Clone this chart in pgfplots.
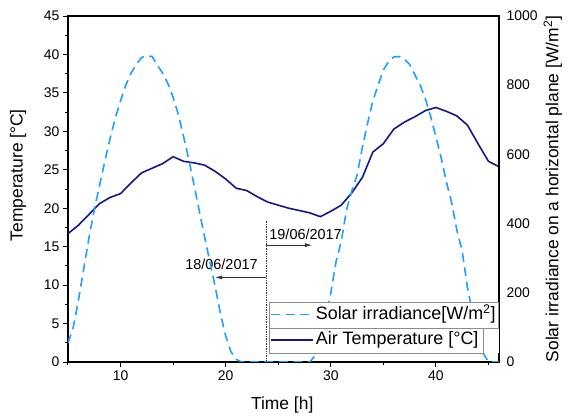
\documentclass[border=0pt]{standalone}
\usepackage{fontspec}
\setmainfont{Liberation Sans}
\usepackage{pgfplots}
\pgfplotsset{compat=1.18}
\usetikzlibrary{arrows.meta}

\definecolor{tempcol}{RGB}{22,22,135}
\definecolor{solcol}{RGB}{30,160,255}

% air temperature [°C]
\pgfplotstableread{
h T
5 16.7
6 17.8
7 19.2
8 20.6
9 21.4
10 21.9
11 23.3
12 24.6
13 25.2
14 25.8
15 26.7
16 26.1
17 25.9
18 25.6
19 24.8
20 23.8
21 22.6
22 22.3
23 21.5
24 20.8
25 20.4
26 20.0
27 19.7
28 19.4
29 18.9
30 19.6
31 20.4
32 22.0
33 24.0
34 27.3
35 28.4
36 30.3
37 31.2
38 31.9
39 32.7
40 33.1
41 32.6
42 32.0
43 30.8
44 28.4
45 26.1
46 25.4
}\temptable

% solar irradiance [W/m2]
\pgfplotstableread{
h S
5 55
5.5 100
6 180
6.5 270
7 360
7.5 440
8 510
8.5 580
9 645
9.5 705
10 755
10.5 800
11 835
11.5 860
12 880
12.5 885
13 883
13.5 858
14 835
14.5 805
15 765
15.5 715
16 651
16.5 584
17 510
17.5 435
18 360
18.5 290
19 218
19.5 140
20 75
20.5 30
21 8
21.5 0
22 0
24 0
26 0
28 0
28.5 18
29 60
29.5 120
30 200
30.5 290
31 350
31.5 440
32 495
32.5 540
33 620
33.5 690
34 755
34.5 800
35 844
35.5 868
36 882
36.5 883
37 875
37.5 860
38 830
38.5 800
39 760
39.5 710
40 650
40.5 590
41 520
41.5 460
42 380
42.5 320
43 215
43.5 140
44 75
44.5 25
45 0
46 0
}\soltable

\begin{document}
\begin{tikzpicture}
\path[use as bounding box] (-68bp,-57bp) rectangle (502bp,362bp);
\begin{axis}[
  at={(0,0)}, anchor=south west,
  width=431bp, height=346bp, scale only axis,
  xmin=5, xmax=46, ymin=0, ymax=45,
  xtick={10,20,30,40}, minor xtick={5,15,25,35,45},
  ytick={0,5,...,45}, minor ytick={2.5,7.5,...,42.5},
  tick pos=left, tick align=outside,
  major tick length=5bp, minor tick length=3bp,
  tick style={line width=1bp, black},
  axis line style={line width=1.3bp},
  ticklabel style={font=\fontsize{14}{16}\selectfont},
  /pgf/number format/assume math mode=true,
  xlabel={Time [h]},
  ylabel={Temperature [°C]},
  label style={font=\fontsize{17.5}{20}\selectfont},
  xlabel style={at={(axis description cs:0.497,-0.124)}, anchor=center},
  ylabel style={at={(axis description cs:-0.116,0.54)}, anchor=center},
]
\addplot[tempcol, line width=1.6bp] table[x=h, y=T] {\temptable};

\draw[densely dotted, line width=0.7bp, black!80] (axis cs:23.85,0) -- (axis cs:23.85,18.5);
\draw[-{Latex[length=7bp,width=4bp]}, line width=0.6bp, black!80] (axis cs:23.85,11) -- (axis cs:19.0,11);
\draw[-{Latex[length=7bp,width=4bp]}, line width=0.6bp, black!80] (axis cs:23.85,15.2) -- (axis cs:28.2,15.2);
\node[font=\fontsize{14.5}{16}\selectfont] at (axis cs:19.6,12.65) {18/06/2017};
\node[font=\fontsize{14.5}{16}\selectfont] at (axis cs:27.6,16.6) {19/06/2017};
\end{axis}

\begin{axis}[
  at={(0,0)}, anchor=south west,
  width=431bp, height=346bp, scale only axis,
  xmin=5, xmax=46, ymin=0, ymax=1000,
  axis x line=none, axis y line*=right,
  ytick={0,200,...,1000},
  ytick style={draw=none},
  axis line style={line width=1.3bp},
  yticklabel style={font=\fontsize{14}{16}\selectfont, xshift=4bp,
    /pgf/number format/1000 sep={}},
  /pgf/number format/assume math mode=true,
  ylabel={Solar irradiance on a horizontal plane [W/m\textsuperscript{2}]},
  ylabel style={font=\fontsize{17.5}{20}\selectfont, at={(axis description cs:1.125,0.5)}, anchor=center},
  legend style={at={(axis description cs:0.4664,0.026)}, anchor=south west,
    draw=none, fill=white, inner xsep=1bp, inner ysep=0bp,
    font=\fontsize{18}{20}\selectfont, row sep=0bp,
    nodes={inner xsep=2bp, inner ysep=4bp, text height=13.5bp, text depth=4bp}},
  legend cell align=left,
  legend image code/.code={\draw[#1] (0bp,0bp) -- (42bp,0bp);},
]
\addplot[solcol, line width=1.6bp, dash pattern=on 9bp off 5.5bp] table[x=h, y=S] {\soltable};
\addlegendentry{Solar irradiance[W/m\textsuperscript{2}]}
\addlegendimage{tempcol, line width=1.6bp}
\addlegendentry{Air Temperature [°C]}
\end{axis}

\draw[black!45, line width=0.8bp] (201bp,34bp) rectangle (430bp,60bp);
\draw[black!45, line width=0.8bp] (201bp,9bp) rectangle (415bp,34bp);
\end{tikzpicture}
\end{document}
